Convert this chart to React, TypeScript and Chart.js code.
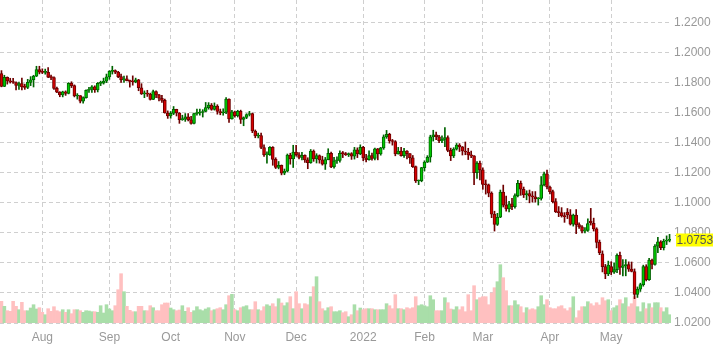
import { useEffect, useRef } from 'react';
import { Chart, registerables } from 'chart.js';

Chart.register(...registerables);

const FONT = "'Liberation Sans', Arial, sans-serif";

const opens = [
1.1860,1.1775,1.1836,1.1811,1.1806,1.1801,1.1781,1.1794,1.1771,1.1768,
1.1802,1.1819,1.1843,1.1887,1.1870,1.1868,1.1869,1.1836,1.1833,1.1762,
1.1737,1.1719,1.1739,1.1728,1.1795,1.1780,1.1711,1.1713,1.1676,1.1700,
1.1749,1.1754,1.1772,1.1751,1.1795,1.1797,1.1809,1.1838,1.1875,1.1880,
1.1870,1.1840,1.1818,1.1826,1.1813,1.1808,1.1804,1.1819,1.1766,1.1725,
1.1727,1.1723,1.1688,1.1741,1.1719,1.1696,1.1682,1.1598,1.1578,1.1595,
1.1622,1.1598,1.1554,1.1556,1.1573,1.1553,1.1529,1.1594,1.1598,1.1601,
1.1608,1.1634,1.1651,1.1622,1.1644,1.1608,1.1598,1.1603,1.1690,1.1558,
1.1606,1.1580,1.1609,1.1555,1.1568,1.1588,1.1594,1.1478,1.1445,1.1448,
1.1368,1.1319,1.1320,1.1369,1.1289,1.1236,1.1249,1.1198,1.1210,1.1318,
1.1293,1.1338,1.1320,1.1302,1.1316,1.1286,1.1267,1.1345,1.1292,1.1315,
1.1286,1.1258,1.1288,1.1330,1.1239,1.1280,1.1283,1.1329,1.1327,1.1320,
1.1327,1.1310,1.1352,1.1325,1.1370,1.1298,1.1288,1.1314,1.1295,1.1359,
1.1326,1.1366,1.1439,1.1456,1.1413,1.1408,1.1325,1.1345,1.1314,1.1344,
1.1327,1.1300,1.1241,1.1145,1.1148,1.1234,1.1271,1.1303,1.1440,1.1452,
1.1440,1.1413,1.1422,1.1435,1.1349,1.1312,1.1357,1.1385,1.1372,1.1345,
1.1338,1.1318,1.1312,1.1200,1.1265,1.1219,1.1123,1.1120,1.1064,1.0925,
1.0856,1.0904,1.1072,1.0985,1.0960,1.0994,1.0975,1.1048,1.1130,1.1090,
1.1052,1.1062,1.1045,1.1040,1.1026,1.1030,1.1120,1.1193,1.1105,1.1075,
1.1008,1.0940,1.0935,1.0912,1.0938,1.0920,1.0858,1.0918,1.0855,1.0840,
1.0812,1.0817,1.0878,1.0863,1.0826,1.0739,1.0660,1.0575,1.0527,1.0575,
1.0538,1.0555,1.0651,1.0570,1.0581,1.0589,1.0559,1.0543,1.0390,1.0425,
1.0455,1.0576,1.0488,1.0618,1.0590,1.0712,1.0740,1.0702,1.0745,1.0750,
];

const highs = [
1.1880,1.1849,1.1838,1.1829,1.1828,1.1805,1.1803,1.1831,1.1790,1.1822,
1.1840,1.1849,1.1909,1.1909,1.1892,1.1890,1.1900,1.1850,1.1838,1.1770,
1.1740,1.1743,1.1745,1.1800,1.1806,1.1785,1.1727,1.1714,1.1706,1.1752,
1.1769,1.1780,1.1779,1.1801,1.1810,1.1830,1.1857,1.1880,1.1909,1.1885,
1.1875,1.1857,1.1844,1.1846,1.1817,1.1845,1.1830,1.1822,1.1793,1.1745,
1.1749,1.1730,1.1750,1.1745,1.1722,1.1715,1.1690,1.1612,1.1608,1.1641,
1.1623,1.1601,1.1583,1.1594,1.1594,1.1575,1.1598,1.1624,1.1624,1.1620,
1.1668,1.1667,1.1661,1.1665,1.1653,1.1624,1.1626,1.1700,1.1692,1.1616,
1.1611,1.1616,1.1617,1.1572,1.1593,1.1609,1.1597,1.1485,1.1464,1.1464,
1.1386,1.1340,1.1374,1.1374,1.1300,1.1275,1.1252,1.1225,1.1325,1.1330,
1.1383,1.1383,1.1334,1.1336,1.1320,1.1300,1.1355,1.1352,1.1327,1.1319,
1.1310,1.1302,1.1360,1.1337,1.1302,1.1306,1.1346,1.1342,1.1335,1.1332,
1.1334,1.1369,1.1366,1.1386,1.1376,1.1322,1.1346,1.1331,1.1364,1.1362,
1.1369,1.1452,1.1482,1.1463,1.1422,1.1414,1.1369,1.1369,1.1363,1.1347,
1.1328,1.1315,1.1245,1.1152,1.1236,1.1280,1.1314,1.1450,1.1483,1.1471,
1.1449,1.1446,1.1500,1.1446,1.1364,1.1367,1.1395,1.1394,1.1375,1.1405,
1.1363,1.1345,1.1314,1.1274,1.1278,1.1233,1.1152,1.1125,1.1073,1.0944,
1.0930,1.1085,1.1118,1.1044,1.1010,1.1030,1.1060,1.1150,1.1145,1.1105,
1.1080,1.1085,1.1075,1.1075,1.1035,1.1175,1.1205,1.1218,1.1112,1.1085,
1.1028,1.0975,1.0968,1.0935,1.0962,1.0955,1.0925,1.0955,1.0866,1.0848,
1.0835,1.0893,1.0963,1.0898,1.0834,1.0752,1.0680,1.0590,1.0612,1.0608,
1.0600,1.0660,1.0672,1.0622,1.0622,1.0607,1.0606,1.0560,1.0440,1.0465,
1.0585,1.0588,1.0630,1.0625,1.0722,1.0770,1.0748,1.0758,1.0780,1.0790,
];

const lows = [
1.1772,1.1773,1.1790,1.1797,1.1794,1.1752,1.1755,1.1751,1.1755,1.1760,
1.1780,1.1771,1.1840,1.1858,1.1860,1.1856,1.1833,1.1820,1.1755,1.1733,
1.1706,1.1705,1.1715,1.1725,1.1767,1.1705,1.1690,1.1665,1.1664,1.1696,
1.1735,1.1735,1.1735,1.1738,1.1780,1.1790,1.1800,1.1822,1.1857,1.1860,
1.1833,1.1802,1.1801,1.1811,1.1770,1.1783,1.1799,1.1746,1.1721,1.1700,
1.1708,1.1684,1.1686,1.1700,1.1678,1.1668,1.1596,1.1562,1.1563,1.1587,
1.1578,1.1529,1.1549,1.1542,1.1545,1.1524,1.1525,1.1583,1.1584,1.1571,
1.1606,1.1623,1.1616,1.1617,1.1590,1.1586,1.1583,1.1593,1.1535,1.1556,
1.1570,1.1571,1.1528,1.1513,1.1560,1.1578,1.1467,1.1433,1.1432,1.1360,
1.1309,1.1264,1.1315,1.1250,1.1228,1.1226,1.1186,1.1187,1.1206,1.1257,
1.1235,1.1310,1.1292,1.1286,1.1269,1.1227,1.1263,1.1276,1.1265,1.1264,
1.1251,1.1222,1.1286,1.1234,1.1230,1.1262,1.1270,1.1301,1.1315,1.1308,
1.1289,1.1291,1.1301,1.1320,1.1280,1.1273,1.1284,1.1284,1.1286,1.1286,
1.1317,1.1356,1.1429,1.1397,1.1384,1.1313,1.1324,1.1310,1.1302,1.1292,
1.1263,1.1235,1.1135,1.1121,1.1140,1.1212,1.1268,1.1271,1.1411,1.1420,
1.1400,1.1401,1.1374,1.1340,1.1281,1.1301,1.1351,1.1341,1.1318,1.1320,
1.1288,1.1301,1.1120,1.1163,1.1153,1.1090,1.1058,1.1040,1.0901,1.0812,
1.0849,1.0901,1.0972,1.0945,1.0940,1.0955,1.0965,1.1040,1.1050,1.1035,
1.1020,1.1000,1.1005,1.1005,1.0985,1.1018,1.1112,1.1092,1.1060,1.1000,
1.0935,1.0908,1.0905,1.0870,1.0895,1.0852,1.0845,1.0795,1.0830,1.0800,
1.0800,1.0810,1.0852,1.0812,1.0700,1.0655,1.0540,1.0495,1.0515,1.0522,
1.0530,1.0535,1.0523,1.0513,1.0514,1.0543,1.0540,1.0362,1.0370,1.0410,
1.0445,1.0480,1.0484,1.0560,1.0585,1.0668,1.0688,1.0686,1.0722,1.0740,
];

const closes = [
1.1775,1.1836,1.1811,1.1806,1.1801,1.1781,1.1794,1.1771,1.1768,1.1802,
1.1819,1.1843,1.1887,1.1870,1.1868,1.1869,1.1836,1.1833,1.1762,1.1737,
1.1719,1.1739,1.1728,1.1795,1.1780,1.1711,1.1713,1.1676,1.1700,1.1749,
1.1754,1.1772,1.1751,1.1795,1.1797,1.1809,1.1838,1.1875,1.1880,1.1870,
1.1840,1.1818,1.1826,1.1813,1.1808,1.1804,1.1819,1.1766,1.1725,1.1727,
1.1723,1.1688,1.1741,1.1719,1.1696,1.1682,1.1598,1.1578,1.1595,1.1622,
1.1598,1.1554,1.1556,1.1573,1.1553,1.1529,1.1594,1.1598,1.1601,1.1608,
1.1634,1.1651,1.1622,1.1644,1.1608,1.1598,1.1603,1.1690,1.1558,1.1606,
1.1580,1.1609,1.1555,1.1568,1.1588,1.1594,1.1478,1.1445,1.1448,1.1368,
1.1319,1.1320,1.1369,1.1289,1.1236,1.1249,1.1198,1.1210,1.1318,1.1293,
1.1338,1.1320,1.1302,1.1316,1.1286,1.1267,1.1345,1.1292,1.1315,1.1286,
1.1258,1.1288,1.1330,1.1239,1.1280,1.1283,1.1329,1.1327,1.1320,1.1327,
1.1310,1.1352,1.1325,1.1370,1.1298,1.1288,1.1314,1.1295,1.1359,1.1326,
1.1366,1.1439,1.1456,1.1413,1.1408,1.1325,1.1345,1.1314,1.1344,1.1327,
1.1300,1.1241,1.1145,1.1148,1.1234,1.1271,1.1303,1.1440,1.1452,1.1440,
1.1413,1.1422,1.1435,1.1349,1.1312,1.1357,1.1385,1.1372,1.1345,1.1338,
1.1318,1.1312,1.1200,1.1265,1.1219,1.1123,1.1120,1.1064,1.0925,1.0856,
1.0904,1.1072,1.0985,1.0960,1.0994,1.0975,1.1048,1.1130,1.1090,1.1052,
1.1062,1.1045,1.1040,1.1026,1.1030,1.1120,1.1193,1.1105,1.1075,1.1008,
1.0940,1.0935,1.0912,1.0908,1.0920,1.0858,1.0918,1.0855,1.0840,1.0812,
1.0817,1.0862,1.0866,1.0826,1.0736,1.0668,1.0575,1.0527,1.0585,1.0538,
1.0555,1.0651,1.0570,1.0581,1.0589,1.0559,1.0543,1.0390,1.0425,1.0455,
1.0576,1.0488,1.0618,1.0590,1.0712,1.0740,1.0702,1.0745,1.0750,1.0753,
];

const volumes = [
217,167,123,117,217,167,133,207,123,123,
150,183,140,153,107,83,143,117,163,123,
113,133,107,133,93,133,133,123,107,123,
120,
113,113,107,173,100,183,140,123,173,333,
493,313,167,127,113,113,167,167,123,123,
173,153,123,123,183,200,200,150,133,123,
130,
173,117,153,107,123,163,133,123,140,153,
123,133,143,153,133,183,273,287,133,123,
153,163,173,133,133,213,133,123,163,183,
170,
193,163,243,200,173,203,263,143,313,193,
143,193,183,263,363,463,213,143,123,153,
163,113,113,123,103,113,63,83,183,123,
150,
133,143,143,143,133,133,133,133,193,173,
143,283,143,143,133,153,143,153,263,173,
183,173,163,273,233,123,123,123,253,203,
140,
133,163,133,163,113,283,123,373,233,253,
263,263,183,300,353,413,583,453,323,173,
173,223,183,163,103,153,133,143,133,163,
273,183,233,153,143,143,163,173,143,123,
153,263,53,123,163,163,213,193,173,203,
180,
253,223,233,123,153,173,233,193,253,163,
193,263,163,113,203,143,193,153,203,203,
153,113,153,83,
];

const monthTickIndex = [14, 37, 58, 80, 101, 124, 145, 165, 188, 209];
const monthTickLabels = ['Aug', 'Sep', 'Oct', 'Nov', 'Dec', '2022', 'Feb', 'Mar', 'Apr', 'May'];
const priceTicks = [1.02, 1.04, 1.06, 1.08, 1.10, 1.12, 1.14, 1.16, 1.18, 1.20, 1.22];
const PRICE_MIN = 1.02;
const PRICE_MAX = 1.235;
const VOLUME_AXIS_MAX = 3230;

const UP_FILL = '#00c800';
const UP_LINE = '#006400';
const DOWN_FILL = '#d40000';
const DOWN_LINE = '#6e0000';
const VOL_UP = '#a9dea9';
const VOL_DOWN = '#ffc0c0';
const GRID = '#cfcfcf';
const TICK_COLOR = '#999999';

const lastPricePlugin = {
  id: 'lastPrice',
  afterDraw(chart: any) {
    const last = closes[closes.length - 1];
    const y = chart.scales.y.getPixelForValue(last);
    const x = chart.chartArea.right;
    const ctx = chart.ctx;
    ctx.save();
    ctx.fillStyle = '#ffff00';
    ctx.fillRect(x + 5, Math.round(y) - 6.5, 37, 13);
    ctx.fillStyle = '#555555';
    ctx.font = `12px ${FONT}`;
    ctx.textBaseline = 'middle';
    ctx.textAlign = 'left';
    ctx.fillText(last.toFixed(4), x + 5.5, Math.round(y) + 0.5);
    ctx.restore();
  },
};

export default function App() {
  const ref = useRef<HTMLCanvasElement>(null);

  useEffect(() => {
    const labels = closes.map((_, i) => String(i));
    const up = closes.map((c, i) => c >= opens[i]);
    const chart = new Chart(ref.current as HTMLCanvasElement, {
      type: 'bar',
      data: {
        labels,
        datasets: [
          {
            label: 'Volume',
            data: volumes,
            yAxisID: 'yv',
            backgroundColor: up.map((u) => (u ? VOL_UP : VOL_DOWN)),
            barPercentage: 1,
            categoryPercentage: 1,
            grouped: false,
            order: 3,
          } as any,
          {
            label: 'Range',
            data: lows.map((l, i) => [l, highs[i]]),
            yAxisID: 'y',
            backgroundColor: up.map((u) => (u ? UP_LINE : DOWN_LINE)),
            barThickness: 1,
            grouped: false,
            order: 2,
          } as any,
          {
            label: 'Body',
            data: opens.map((o, i) => [o, closes[i]]),
            yAxisID: 'y',
            backgroundColor: up.map((u) => (u ? UP_FILL : DOWN_FILL)),
            borderColor: up.map((u) => (u ? UP_LINE : DOWN_LINE)),
            borderWidth: 1,
            borderSkipped: false,
            barThickness: 3,
            minBarLength: 1,
            grouped: false,
            order: 1,
          } as any,
        ],
      },
      options: {
        responsive: false,
        animation: false,
        events: [],
        layout: { padding: 0 },
        plugins: { legend: { display: false }, tooltip: { enabled: false } },
        scales: {
          x: {
            type: 'category',
            offset: true,
            grid: {
              offset: false,
              drawTicks: false,
              lineWidth: 1,
              color: (ctx: any) => (monthTickIndex.includes(ctx.index) ? GRID : 'rgba(0,0,0,0)'),
            },
            border: { display: false, dash: [4, 3] },
            ticks: {
              autoSkip: false,
              maxRotation: 0,
              minRotation: 0,
              padding: 7,
              color: TICK_COLOR,
              font: { family: FONT, size: 12 },
              callback: (_v: any, i: number) => {
                const k = monthTickIndex.indexOf(i);
                return k >= 0 ? monthTickLabels[k] : '';
              },
            },
            afterFit: (s: any) => {
              s.height = 27;
              s.paddingLeft = 0;
              s.paddingRight = 0;
            },
          },
          y: {
            position: 'right',
            min: PRICE_MIN,
            max: PRICE_MAX,
            afterBuildTicks: (s: any) => {
              s.ticks = priceTicks.map((v) => ({ value: v }));
            },
            grid: { color: GRID, drawTicks: false, lineWidth: 1 },
            border: { display: false, dash: [4, 3] },
            ticks: {
              padding: 3,
              color: TICK_COLOR,
              font: { family: FONT, size: 12 },
              callback: (v: any) => Number(v).toFixed(4),
            },
            afterFit: (s: any) => {
              s.width = 45;
              s.paddingTop = 0;
              s.paddingBottom = 0;
            },
          },
          yv: {
            display: false,
            min: 0,
            max: VOLUME_AXIS_MAX,
          },
        },
      } as any,
      plugins: [lastPricePlugin],
    });
    return () => chart.destroy();
  }, []);

  return (
    <div style={{ position: 'absolute', left: 0, top: 0, width: 716, height: 350 }}>
      <canvas ref={ref} width={716} height={350} />
    </div>
  );
}
